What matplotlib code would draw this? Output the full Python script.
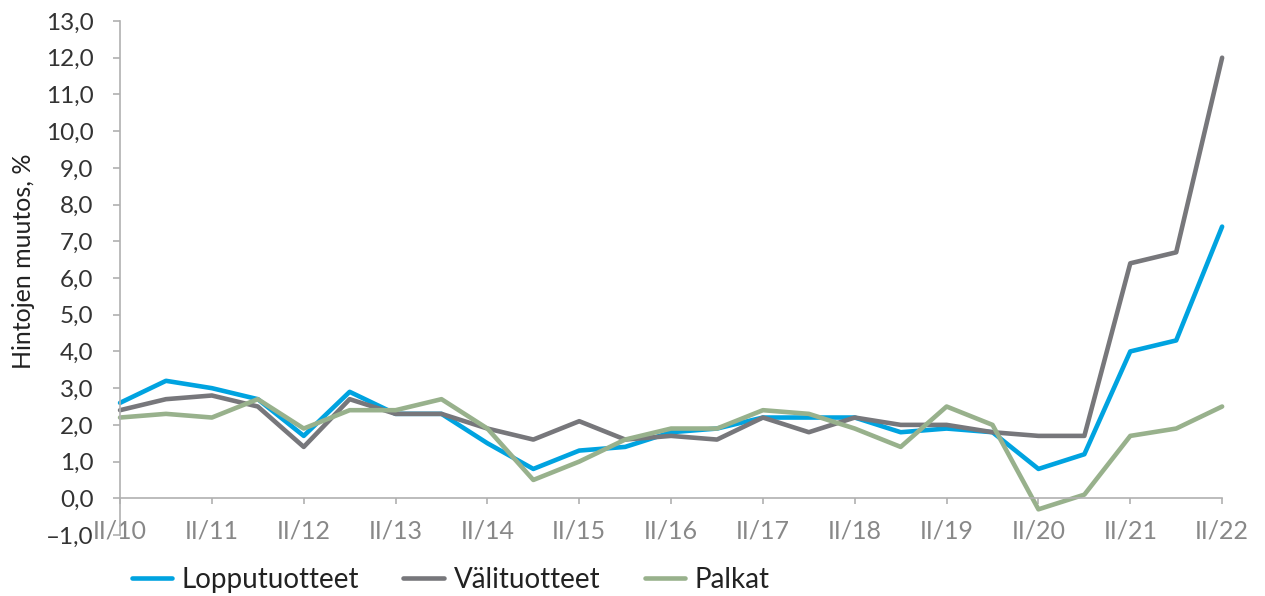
import numpy as np
import matplotlib
matplotlib.use("Agg")
import matplotlib.pyplot as plt

plt.rcParams['font.family'] = ['Lato', 'DejaVu Sans']

# half-year points from II/10 to II/22
periods = np.arange(25)
year_ticks = np.arange(0, 25, 2)
year_labels = ["II/%d" % y for y in range(10, 23)]

lopputuotteet = [2.6, 3.2, 3.0, 2.7, 1.7, 2.9, 2.3, 2.3, 1.5, 0.8, 1.3, 1.4, 1.8,
                 1.9, 2.2, 2.2, 2.2, 1.8, 1.9, 1.8, 0.8, 1.2, 4.0, 4.3, 7.4]
valituotteet = [2.4, 2.7, 2.8, 2.5, 1.4, 2.7, 2.3, 2.3, 1.9, 1.6, 2.1, 1.6, 1.7,
                1.6, 2.2, 1.8, 2.2, 2.0, 2.0, 1.8, 1.7, 1.7, 6.4, 6.7, 12.0]
palkat = [2.2, 2.3, 2.2, 2.7, 1.9, 2.4, 2.4, 2.7, 1.9, 0.5, 1.0, 1.6, 1.9,
          1.9, 2.4, 2.3, 1.9, 1.4, 2.5, 2.0, -0.3, 0.1, 1.7, 1.9, 2.5]

y_ticks = np.arange(-1, 14, 1)
y_labels = [("%.1f" % v).replace(".", ",").replace("-", "\u2013") for v in y_ticks]

fig = plt.figure(figsize=(12.65, 5.96), dpi=100)
ax = fig.add_axes([0.0949, 0.1023, 0.8712, 0.8625])

line_kw = dict(lw=3.3, solid_capstyle="round", solid_joinstyle="round", clip_on=False)
ax.plot(periods, lopputuotteet, color="#00A3E0", label="Lopputuotteet", **line_kw)
ax.plot(periods, valituotteet, color="#77777B", label="Välituotteet", **line_kw)
ax.plot(periods, palkat, color="#98B18C", label="Palkat", **line_kw)

ax.set_xlim(0, 24)
ax.set_ylim(-1, 13)

for s in ["top", "right"]:
    ax.spines[s].set_visible(False)
ax.spines["bottom"].set_position(("data", 0))
ax.spines["bottom"].set_color("#b0b0b0")
ax.spines["left"].set_color("#b0b0b0")
ax.spines["bottom"].set_linewidth(1.2)
ax.spines["left"].set_linewidth(1.2)

ax.set_yticks(y_ticks)
ax.set_yticklabels(y_labels)
ax.set_xticks(year_ticks)
ax.set_xticklabels(year_labels)
ax.tick_params(axis="y", length=5, width=1.2, color="#b0b0b0", pad=14,
               labelsize=17.5, labelcolor="#333333")
ax.tick_params(axis="x", length=4, width=1.2, color="#b0b0b0", pad=11,
               labelsize=18, labelcolor="#888888")

ax.set_ylabel("Hintojen muutos, %", fontsize=18, color="#222222")
ax.yaxis.set_label_coords(-0.077, 0.533)

fig.legend(loc="center left", bbox_to_anchor=(0.093, 0.027), ncol=3,
           frameon=False, fontsize=20, handlelength=1.45, handletextpad=0.35,
           columnspacing=1.6, borderpad=0, labelcolor="#222222")

plt.savefig("out.png", dpi=100)
